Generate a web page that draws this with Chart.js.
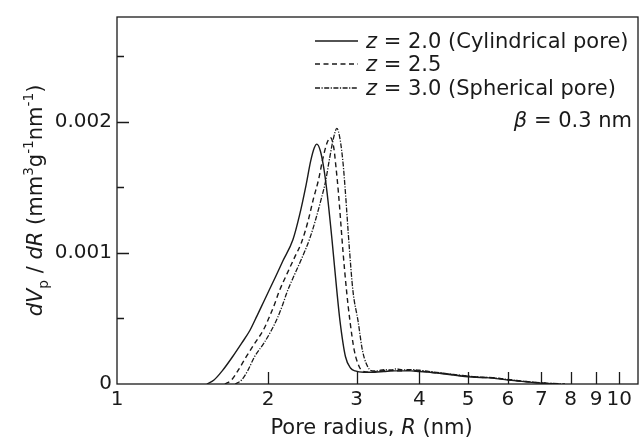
<!DOCTYPE html>
<html>
<head>
<meta charset="utf-8">
<script src="https://cdn.jsdelivr.net/npm/chart.js@4.4.1/dist/chart.umd.min.js"></script>
<style>
html, body { margin: 0; padding: 0; background: #fff; }
</style>
</head>
<body>
<canvas id="myChart" width="642" height="440"></canvas>
<script>
// pore radius R (nm) and dVp/dR for each z
var r_z20 = [1.51, 1.56, 1.62, 1.70, 1.77, 1.84, 1.90, 1.955, 2.00, 2.07, 2.14, 2.24, 2.31, 2.38, 2.43, 2.47, 2.50, 2.54, 2.58, 2.62, 2.68, 2.74, 2.78, 2.85, 2.92, 2.98,
	3.1, 3.25, 3.4, 3.55, 3.7, 3.85, 4.0, 4.2, 4.5, 4.8, 5.0, 5.3, 5.6, 6.0, 6.4, 6.8, 7.2, 7.5];
var v_z20 = [0, 0.00003, 0.0001, 0.00021, 0.00031, 0.00041, 0.00052, 0.00062, 0.0007, 0.00082, 0.00094, 0.0011, 0.00129, 0.00152, 0.0017, 0.0018, 0.00183, 0.00178, 0.00165, 0.00146, 0.0011, 0.00071, 0.00048, 0.00021, 0.00012, 0.0001,
	0.00009, 0.00009, 0.000095, 0.0001, 0.0001, 0.0001, 0.000095, 0.00009, 0.000075, 0.000062, 0.000055, 0.00005, 0.000045, 0.00003, 0.00002, 0.00001, 0.000003, 0];

var r_z25 = [1.64, 1.69, 1.74, 1.81, 1.88, 1.955, 2.01, 2.06, 2.10, 2.18, 2.26, 2.33, 2.40, 2.46, 2.52, 2.57, 2.62, 2.66, 2.70, 2.73, 2.76, 2.82, 2.865, 2.91, 2.97, 3.03, 3.08,
	3.2, 3.35, 3.5, 3.65, 3.8, 4.0, 4.2, 4.5, 4.8, 5.0, 5.3, 5.6, 6.0, 6.4, 6.8, 7.2, 7.6];
var v_z25 = [0, 0.00003, 0.0001, 0.00021, 0.00031, 0.00041, 0.00051, 0.00061, 0.0007, 0.00084, 0.00097, 0.00108, 0.00124, 0.00141, 0.00156, 0.00172, 0.00184, 0.00188, 0.00181, 0.00165, 0.00146, 0.001, 0.00071, 0.00048, 0.00025, 0.00014, 0.0001,
	0.00009, 0.0001, 0.000105, 0.0001, 0.000105, 0.0001, 0.00009, 0.00008, 0.000065, 0.00006, 0.00005, 0.000048, 0.000033, 0.000022, 0.000012, 0.000005, 0];

var r_z30 = [1.72, 1.77, 1.82, 1.88, 1.96, 2.03, 2.09, 2.14, 2.18, 2.26, 2.34, 2.42, 2.48, 2.55, 2.60, 2.65, 2.70, 2.74, 2.78, 2.82, 2.85, 2.90, 2.95, 3.02, 3.08, 3.14, 3.22,
	3.3, 3.4, 3.5, 3.6, 3.7, 3.85, 4.0, 4.2, 4.5, 4.8, 5.0, 5.3, 5.6, 6.0, 6.4, 6.8, 7.2, 7.8];
var v_z30 = [0, 0.00003, 0.0001, 0.00021, 0.00031, 0.00041, 0.00051, 0.00061, 0.0007, 0.00084, 0.00097, 0.00111, 0.00124, 0.00141, 0.00154, 0.00172, 0.00188, 0.00195, 0.00187, 0.00168, 0.00146, 0.00105, 0.00071, 0.00048, 0.00026, 0.00015, 0.0001,
	0.0001, 0.00011, 0.000105, 0.000115, 0.000108, 0.00011, 0.000105, 0.000095, 0.00008, 0.000068, 0.00006, 0.000052, 0.000048, 0.000035, 0.000022, 0.000013, 0.000006, 0];

var zLabels = ["2.0 (Cylindrical pore)", "2.5", "3.0 (Spherical pore)"];
var xTickValues = [1, 2, 3, 4, 5, 6, 7, 8, 9, 10];
var xTickLabels = ["1", "2", "3", "4", "5", "6", "7", "8", "9", "10"];
var yTickValues = [0, 0.0005, 0.001, 0.0015, 0.002, 0.0025];
var yTickLabels = ["0", "", "0.001", "", "0.002", ""];

var FONT = "'DejaVu Sans'";
var INK = "#1a1a1a";

function pts(xs, ys) {
	var out = [];
	for (var i = 0; i < xs.length; i++) out.push({x: xs[i], y: ys[i]});
	return out;
}

function fontStr(size, italic) {
	return (italic ? "italic " : "") + size + "px " + FONT;
}

// runs: {t: text, i: italic, s: 'sub'|'sup'}
function drawRich(ctx, runs, x, y, size, align) {
	var w = 0;
	runs.forEach(function(r) {
		ctx.font = fontStr(r.s ? size * 0.65 : size, r.i);
		w += ctx.measureText(r.t).width;
	});
	var cx = align == "center" ? x - w / 2 : (align == "right" ? x - w : x);
	runs.forEach(function(r) {
		var s = r.s ? size * 0.65 : size;
		ctx.font = fontStr(s, r.i);
		var dy = r.s == "sub" ? size * 0.28 : (r.s == "sup" ? -size * 0.42 : 0);
		ctx.fillText(r.t, cx, y + dy);
		cx += ctx.measureText(r.t).width;
	});
}

var decor = {
	id: "decor",
	afterDraw: function(chart) {
		var ctx = chart.ctx;
		var a = chart.chartArea;
		var xs = chart.scales.x, ys = chart.scales.y;
		ctx.save();
		ctx.strokeStyle = INK;
		ctx.fillStyle = INK;
		ctx.lineWidth = 1.3;
		ctx.setLineDash([]);
		ctx.strokeRect(a.left, a.top, a.right - a.left, a.bottom - a.top);

		// inward ticks
		ctx.beginPath();
		xTickValues.forEach(function(v) {
			var px = Math.round(xs.getPixelForValue(v)) + 0.5;
			if (px < a.left + 2) return;
			ctx.moveTo(px, a.bottom);
			ctx.lineTo(px, a.bottom - 12);
		});
		yTickValues.forEach(function(v, i) {
			var py = Math.round(ys.getPixelForValue(v)) + 0.5;
			if (py > a.bottom - 2) return;
			var len = yTickLabels[i] ? 12 : 7;
			ctx.moveTo(a.left, py);
			ctx.lineTo(a.left + len, py);
		});
		ctx.stroke();

		// legend
		ctx.textBaseline = "alphabetic";
		var rowY = [41, 64, 88];
		chart.data.datasets.forEach(function(ds, i) {
			ctx.beginPath();
			ctx.lineWidth = ds.borderWidth;
			ctx.setLineDash(ds.borderDash || []);
			ctx.moveTo(315, rowY[i]);
			ctx.lineTo(358, rowY[i]);
			ctx.stroke();
			ctx.setLineDash([]);
			drawRich(ctx, [{t: "z", i: true}, {t: " = " + zLabels[i]}], 366, rowY[i] + 7, 21, "left");
		});
		drawRich(ctx, [{t: "\u03b2", i: true}, {t: " = 0.3 nm"}], 632, 127, 21, "right");

		// axis titles
		drawRich(ctx, [{t: "Pore radius, "}, {t: "R", i: true}, {t: " (nm)"}], (a.left + a.right) / 2 - 6, 434, 21, "center");
		ctx.translate(42, (a.top + a.bottom) / 2);
		ctx.rotate(-Math.PI / 2);
		drawRich(ctx, [
			{t: "dV", i: true}, {t: "p", s: "sub"}, {t: " / "}, {t: "dR", i: true},
			{t: " (mm"}, {t: "3", s: "sup"}, {t: "g"}, {t: "-1", s: "sup"}, {t: "nm"}, {t: "-1", s: "sup"}, {t: ")"}
		], 0, 0, 21, "center");
		ctx.restore();
	}
};

var ctx = document.getElementById("myChart");

var myChart = new Chart(ctx, {
	type: "line",
	data: {
		datasets: [
			{ label: "z = 2.0", data: pts(r_z20, v_z20), borderColor: INK, borderWidth: 1.4, borderDash: [] },
			{ label: "z = 2.5", data: pts(r_z25, v_z25), borderColor: INK, borderWidth: 1.4, borderDash: [5, 3.5] },
			{ label: "z = 3.0", data: pts(r_z30, v_z30), borderColor: INK, borderWidth: 1.3, borderDash: [5, 1.5, 1.2, 1.5] }
		]
	},
	options: {
		responsive: false,
		animation: false,
		devicePixelRatio: 1,
		layout: { padding: { top: 12, right: 4, left: 0, bottom: 0 } },
		elements: {
			point: { radius: 0, hoverRadius: 0 },
			line: { fill: false, cubicInterpolationMode: "monotone" }
		},
		plugins: { legend: { display: false }, tooltip: { enabled: false } },
		scales: {
			x: {
				type: "logarithmic",
				min: 1,
				max: 10.9,
				grid: { display: false, drawTicks: false },
				border: { display: false },
				afterBuildTicks: function(scale) {
					scale.ticks = xTickValues.map(function(v) { return {value: v}; });
				},
				afterFit: function(scale) { scale.height = 56; },
				ticks: {
					autoSkip: false,
					maxRotation: 0,
					padding: 4,
					color: INK,
					font: { family: "DejaVu Sans", size: 20 },
					callback: function(v) {
						var i = xTickValues.indexOf(v);
						return i >= 0 ? xTickLabels[i] : "";
					}
				}
			},
			y: {
				min: 0,
				max: 0.0028,
				grid: { display: false, drawTicks: false },
				border: { display: false },
				afterBuildTicks: function(scale) {
					scale.ticks = yTickValues.map(function(v) { return {value: v}; });
				},
				afterFit: function(scale) { scale.width = 117; },
				ticks: {
					autoSkip: false,
					padding: 5,
					color: INK,
					font: { family: "DejaVu Sans", size: 20 },
					callback: function(v, i) { return yTickLabels[i]; }
				}
			}
		}
	},
	plugins: [decor]
});
</script>
</body>
</html>
